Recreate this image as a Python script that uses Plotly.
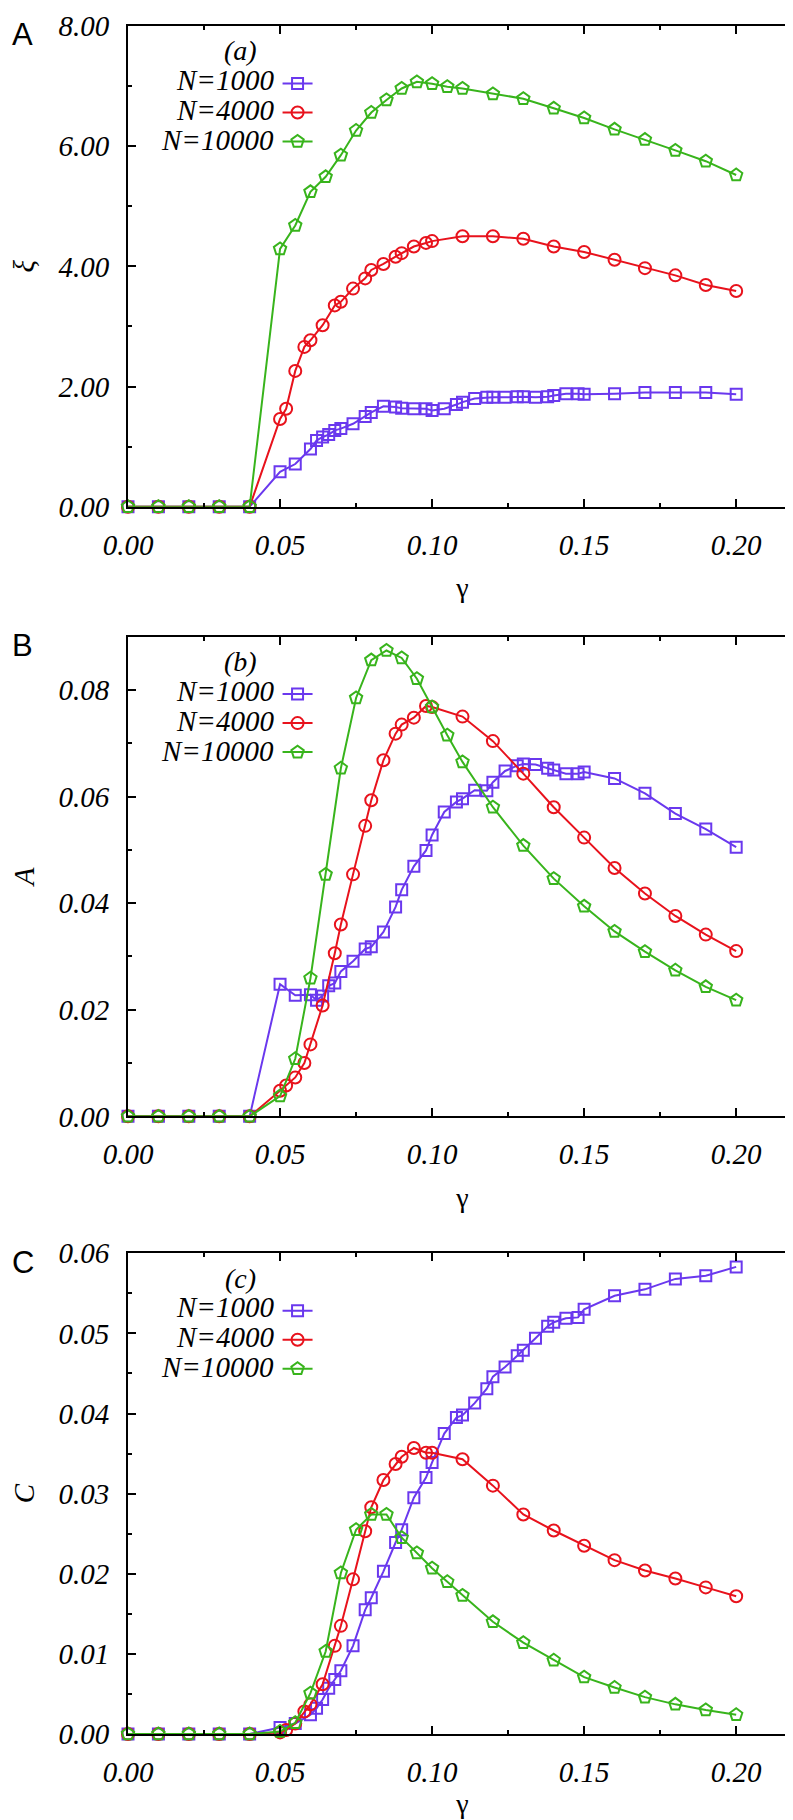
import plotly.graph_objects as go

# ---------------- data ----------------
gamma_1000 = [0, 0.01, 0.02, 0.03, 0.04, 0.05, 0.055, 0.06, 0.062, 0.064, 0.066, 0.068, 0.07,
              0.074, 0.078, 0.08, 0.084, 0.088, 0.09, 0.094, 0.098, 0.10, 0.104, 0.108, 0.11,
              0.114, 0.118, 0.12, 0.124, 0.128, 0.13, 0.134, 0.138, 0.14, 0.144, 0.148, 0.15,
              0.16, 0.17, 0.18, 0.19, 0.20]
gamma_4000 = [0, 0.01, 0.02, 0.03, 0.04, 0.05, 0.052, 0.055, 0.058, 0.06, 0.064, 0.068, 0.07,
              0.074, 0.078, 0.08, 0.084, 0.088, 0.09, 0.094, 0.098, 0.10, 0.11, 0.12, 0.13,
              0.14, 0.15, 0.16, 0.17, 0.18, 0.19, 0.20]
gamma_10000 = [0, 0.01, 0.02, 0.03, 0.04, 0.05, 0.055, 0.06, 0.065, 0.07, 0.075, 0.08, 0.085,
               0.09, 0.095, 0.10, 0.105, 0.11, 0.12, 0.13, 0.14, 0.15, 0.16, 0.17, 0.18, 0.19, 0.20]

# panel (a): xi
xi_1000 = [0, 0, 0, 0, 0, 0.58, 0.71, 0.96, 1.10, 1.16, 1.20, 1.27, 1.30,
           1.38, 1.50, 1.57, 1.67, 1.66, 1.64, 1.63, 1.63, 1.60, 1.63, 1.70, 1.74,
           1.80, 1.82, 1.82, 1.82, 1.83, 1.83, 1.82, 1.83, 1.85, 1.88, 1.88, 1.87,
           1.88, 1.90, 1.90, 1.90, 1.87]
xi_4000 = [0, 0, 0, 0, 0, 1.46, 1.63, 2.26, 2.66, 2.77, 3.02, 3.35, 3.41,
           3.63, 3.80, 3.94, 4.04, 4.16, 4.22, 4.33, 4.39, 4.42, 4.50, 4.50, 4.46,
           4.33, 4.24, 4.11, 3.97, 3.85, 3.69, 3.59]
xi_10000 = [0, 0, 0, 0, 0, 4.29, 4.68, 5.24, 5.49, 5.85, 6.26, 6.56, 6.77,
            6.96, 7.07, 7.04, 6.99, 6.96, 6.87, 6.79, 6.63, 6.47, 6.28, 6.11, 5.93, 5.75, 5.52]

# panel (b): A
A_1000 = [0, 0, 0, 0, 0, 0.0248, 0.0227, 0.0228, 0.0218, 0.0226, 0.0245, 0.0250, 0.0272,
          0.0291, 0.0314, 0.0318, 0.0346, 0.0393, 0.0425, 0.0469, 0.0499, 0.0528, 0.0571, 0.0590, 0.0596,
          0.0612, 0.0611, 0.0627, 0.0648, 0.0658, 0.0661, 0.0660, 0.0653, 0.0650, 0.0643, 0.0643, 0.0646,
          0.0634, 0.0606, 0.0568, 0.0539, 0.0505]
A_4000 = [0, 0, 0, 0, 0, 0.0048, 0.0058, 0.0073, 0.0100, 0.0135, 0.0208, 0.0306, 0.0360,
          0.0454, 0.0545, 0.0593, 0.0668, 0.0718, 0.0735, 0.0748, 0.0770, 0.0768, 0.0750, 0.0704, 0.0643,
          0.0580, 0.0523, 0.0466, 0.0418, 0.0376, 0.0341, 0.0310]
A_10000 = [0, 0, 0, 0, 0, 0.0038, 0.0108, 0.0259, 0.0454, 0.0653, 0.0785, 0.0856, 0.0874,
           0.0860, 0.0821, 0.0768, 0.0715, 0.0665, 0.0580, 0.0508, 0.0446, 0.0394, 0.0347, 0.0309,
           0.0274, 0.0243, 0.0218]

# panel (c): C
C_1000 = [0, 0, 0, 0, 0, 0.0008, 0.0013, 0.0024, 0.0032, 0.0043, 0.0057, 0.0068, 0.0079,
          0.0110, 0.0155, 0.0170, 0.0203, 0.0239, 0.0255, 0.0295, 0.0320, 0.0339, 0.0375, 0.0395, 0.0398,
          0.0413, 0.0431, 0.0446, 0.0458, 0.0472, 0.0479, 0.0494, 0.0509, 0.0514, 0.0519, 0.0520, 0.0530,
          0.0547, 0.0555, 0.0568, 0.0572, 0.0583]
C_4000 = [0, 0, 0, 0, 0, 0.0002, 0.0005, 0.0013, 0.0028, 0.0037, 0.0062, 0.0110, 0.0135,
          0.0193, 0.0253, 0.0283, 0.0317, 0.0337, 0.0346, 0.0357, 0.0351, 0.0351, 0.0343, 0.0310, 0.0274,
          0.0254, 0.0235, 0.0217, 0.0204, 0.0194, 0.0183, 0.0172]
C_10000 = [0, 0, 0, 0, 0, 0.0003, 0.0014, 0.0051, 0.0103, 0.0201, 0.0255, 0.0274, 0.0274,
           0.0245, 0.0226, 0.0207, 0.0190, 0.0173, 0.0140, 0.0114, 0.0092, 0.0071, 0.0058, 0.0046,
           0.0037, 0.0030, 0.0024]

series_names = ["N=1000", "N=4000", "N=10000"]
panel_letters = ["A", "B", "C"]
panel_tags = ["(a)", "(b)", "(c)"]
y_titles = ["ξ", "A", "C"]
x_title = "γ"
y_ranges = [[0, 8], [0, 0.09], [0, 0.06]]
y_dticks = [2, 0.02, 0.01]
y_minor = [1, 0.01, 0.005]

# ---------------- style ----------------
W, H = 793, 1820
ML, MR, MT, MB = 120, 2, 17, 94
PW, PH = W - ML - MR, H - MT - MB
colors = ["#6a38ee", "#e8121c", "#38b41c"]
symbols = ["square-open", "circle-open", "pentagon-open"]
msizes = [11, 12, 13]
panel_px = [(17, 498), (628, 1108), (1245, 1726)]  # top, bottom in pixels
x_title_standoff = [18, 18, 6]
SERIF = "Liberation Serif"
SANS = "Liberation Sans"


def px_x(p):
    return (p - ML) / PW


def px_y(p):
    return (H - MB - p) / PH


fig = go.Figure()

datasets = [
    [(gamma_1000, xi_1000), (gamma_4000, xi_4000), (gamma_10000, xi_10000)],
    [(gamma_1000, A_1000), (gamma_4000, A_4000), (gamma_10000, A_10000)],
    [(gamma_1000, C_1000), (gamma_4000, C_4000), (gamma_10000, C_10000)],
]

for p, ds in enumerate(datasets):
    ax = "" if p == 0 else str(p + 1)
    for s, (gx, gy) in enumerate(ds):
        fig.add_trace(go.Scatter(
            x=gx, y=gy, mode="lines+markers", name="",
            xaxis="x" + ax, yaxis="y" + ax,
            legend="legend" + ax,
            line=dict(color=colors[s], width=2),
            marker=dict(symbol=symbols[s], size=msizes[s], color=colors[s],
                        line=dict(color=colors[s], width=2)),
            cliponaxis=False, showlegend=True,
        ))

tickfont = dict(family=SERIF, size=29, color="black", style="italic")
layout = dict(width=W, height=H, margin=dict(l=ML, r=MR, t=MT, b=MB),
              paper_bgcolor="white", plot_bgcolor="white", showlegend=True,
              annotations=[])

for p in range(3):
    ax = "" if p == 0 else str(p + 1)
    top, bot = panel_px[p]
    dom = [px_y(bot), px_y(top)]
    common = dict(showline=True, linewidth=2, linecolor="black", mirror="ticks",
                  ticks="inside", ticklen=8, tickwidth=1.5, tickcolor="black",
                  showgrid=False, zeroline=False, tickfont=tickfont, tickformat=".2f",
                  ticklabelstandoff=11)
    layout["xaxis" + ax] = dict(common, range=[0, 0.22], dtick=0.05, tick0=0,
                                domain=[0, 1], anchor="y" + ax,
                                minor=dict(dtick=0.025, ticks="inside", ticklen=4,
                                           tickwidth=1.5, tickcolor="black"),
                                title=dict(text=x_title, standoff=x_title_standoff[p],
                                           font=dict(family=SERIF, size=28, color="black")))
    layout["yaxis" + ax] = dict(common, range=y_ranges[p], dtick=y_dticks[p], tick0=0,
                                domain=dom, anchor="x" + ax,
                                minor=dict(dtick=y_minor[p], ticks="inside", ticklen=4,
                                           tickwidth=1.5, tickcolor="black"),
                                title=dict(text=y_titles[p], standoff=18,
                                           font=dict(family=SERIF, size=29, color="black",
                                                     style="italic")))
    layout["legend" + ax] = dict(x=px_x(270), y=px_y(top + 38), xanchor="left", yanchor="top",
                                 bgcolor="rgba(0,0,0,0)", font=dict(size=20),
                                 tracegroupgap=0, itemwidth=30)
    # panel letter
    layout["annotations"].append(dict(text=panel_letters[p], xref="paper", yref="paper",
                                      x=px_x(2), y=px_y(top + 9), xanchor="left", yanchor="middle",
                                      showarrow=False,
                                      font=dict(family=SANS, size=31, color="black")))
    layout["annotations"].append(dict(text=panel_tags[p], xref="paper", yref="paper",
                                      x=px_x(233), y=px_y(top + 25), xanchor="center",
                                      yanchor="middle", showarrow=False,
                                      font=dict(family=SERIF, size=28, color="black",
                                                style="italic")))
    for s in range(3):
        layout["annotations"].append(dict(text=series_names[s], xref="paper", yref="paper",
                                          x=px_x(268), y=px_y(top + 54 + 30 * s),
                                          xanchor="right", yanchor="middle", showarrow=False,
                                          font=dict(family=SERIF, size=29, color="black",
                                                    style="italic")))

fig.update_layout(**layout)
fig.write_html("out.html")
